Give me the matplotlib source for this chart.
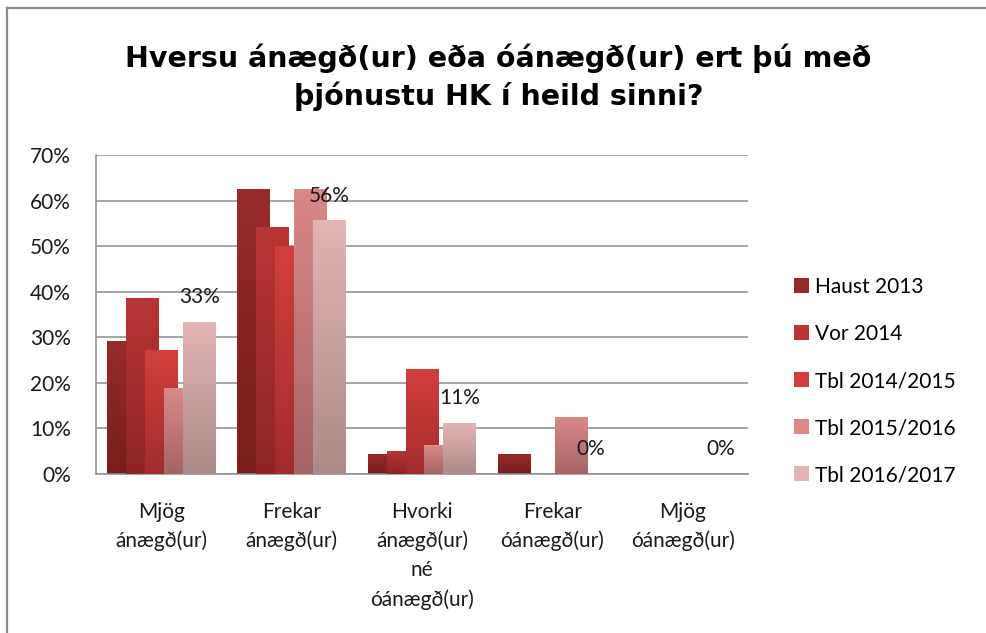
import matplotlib
matplotlib.use("Agg")
import matplotlib.pyplot as plt
import numpy as np
from matplotlib.colors import LinearSegmentedColormap
from matplotlib.patches import Patch
from matplotlib.lines import Line2D

categories = ["Mjög\nánægð(ur)", "Frekar\nánægð(ur)", "Hvorki\nánægð(ur)\nné\nóánægð(ur)",
              "Frekar\nóánægð(ur)", "Mjög\nóánægð(ur)"]
series = ["Haust 2013", "Vor 2014", "Tbl 2014/2015", "Tbl 2015/2016", "Tbl 2016/2017"]
haust_2013 = [0.29, 0.625, 0.042, 0.042, 0.0]
vor_2014 = [0.385, 0.54, 0.05, 0.0, 0.0]
tbl_2014_2015 = [0.27, 0.50, 0.23, 0.0, 0.0]
tbl_2015_2016 = [0.1875, 0.625, 0.0625, 0.125, 0.0]
tbl_2016_2017 = [0.333, 0.556, 0.111, 0.0, 0.0]
values = [haust_2013, vor_2014, tbl_2014_2015, tbl_2015_2016, tbl_2016_2017]

# (top colour, bottom colour) for each series
colors = [("#972b2b", "#781d1d"),
          ("#b93434", "#8d2525"),
          ("#d13f3d", "#a22c2c"),
          ("#da8888", "#a66464"),
          ("#e2b4b4", "#ad8a8a")]

plt.rcParams['font.family'] = ['Lato', 'DejaVu Sans']

fig = plt.figure(figsize=(9.87, 6.33), dpi=100)
ax = fig.add_axes([96 / 987, 1 - 474 / 633, (748 - 96) / 987, (474 - 155) / 633])

step = 0.1456
width = 0.253
x = np.arange(len(categories))
grad = np.linspace(0, 1, 64).reshape(-1, 1)

for i, (vals, (top, bottom)) in enumerate(zip(values, colors)):
    cmap = LinearSegmentedColormap.from_list("c%d" % i, [top, bottom])
    pos = x + (i - 2) * step
    for xc, v in zip(pos, vals):
        if v <= 0:
            continue
        x0 = xc - width / 2
        ax.imshow(grad, extent=[x0, x0 + width, 0, v], aspect='auto', cmap=cmap,
                  interpolation='bilinear', zorder=2 + i)

# labels on the last series only
for xc, v in zip(x + 2 * step, tbl_2016_2017):
    ax.annotate("%d%%" % round(v * 100), (xc, v), xytext=(0, 18), textcoords='offset points',
                ha='center', va='center', fontsize=15, color='#1a1a1a', zorder=10)

ax.set_xlim(-0.5, 4.5)
ax.set_ylim(0, 0.7)
ax.set_yticks(np.arange(0, 0.71, 0.1))
ax.set_yticklabels(["%d%%" % (t * 100) for t in np.arange(0, 0.71, 0.1).round(2)])
ax.set_xticks(x)
ax.set_xticklabels(categories, linespacing=1.55)
ax.tick_params(axis='both', length=0, labelsize=15, colors='#1a1a1a')
ax.tick_params(axis='y', pad=18)
ax.tick_params(axis='x', pad=20)
ax.grid(axis='y', color='#8c8c8c', linewidth=1.1, zorder=1)
ax.set_axisbelow(True)
for s in ['top', 'right']:
    ax.spines[s].set_visible(False)
for s in ['left', 'bottom']:
    ax.spines[s].set_color('#8c8c8c')
    ax.spines[s].set_linewidth(1.1)

handles = [Patch(facecolor=c[0], edgecolor='none') for c in colors]
fig.legend(handles, series, loc='center left', bbox_to_anchor=(775 / 987, 1 - 381 / 633),
           frameon=False, fontsize=15, handlelength=0.72, handleheight=0.72,
           handletextpad=0.3, labelspacing=1.3)

fig.text(0.505, 1 - 77 / 633, "Hversu ánægð(ur) eða óánægð(ur) ert þú með\nþjónustu HK í heild sinni?",
         ha='center', va='center', fontsize=20.5, fontweight='bold',
         family=['DejaVu Sans'], linespacing=1.35)

# outer chart border
fig.add_artist(Line2D([7.5 / 987, 7.5 / 987], [0, 1 - 7.5 / 633], color='#8c8c8c', lw=1.6,
                      transform=fig.transFigure))
fig.add_artist(Line2D([7.5 / 987, 1], [1 - 7.5 / 633, 1 - 7.5 / 633], color='#8c8c8c', lw=1.6,
                      transform=fig.transFigure))

fig.savefig("out.png", dpi=100)
